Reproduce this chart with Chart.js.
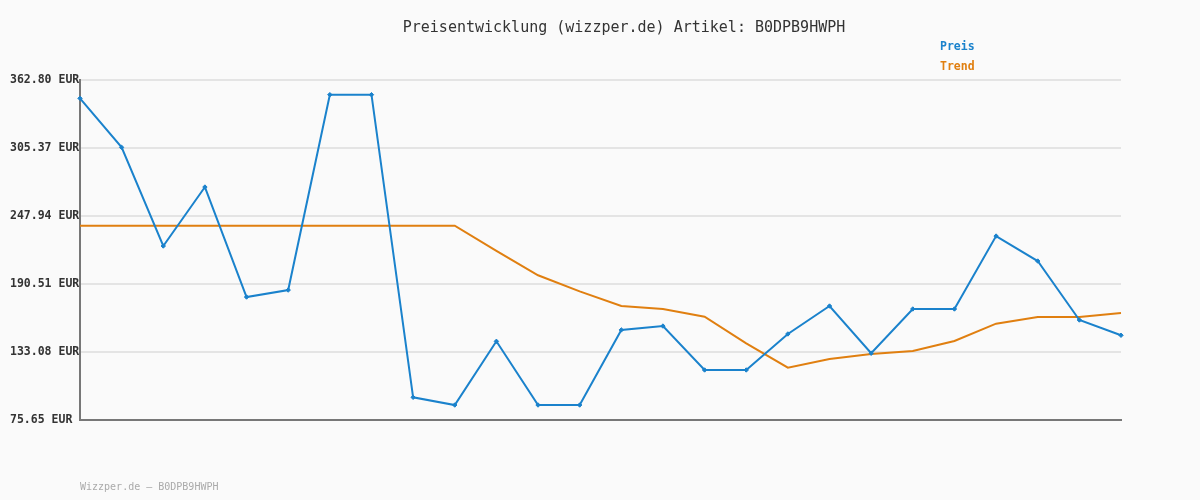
<!DOCTYPE html>
<html>
<head>
<meta charset="utf-8">
<script src="https://cdn.jsdelivr.net/npm/chart.js@4/dist/chart.umd.min.js"></script>
<style>
html,body{margin:0;padding:0;background:#fafafa;}
#wrap{width:1200px;height:500px;position:relative;}
</style>
</head>
<body>
<div id="wrap"><canvas id="c" width="1200" height="500"></canvas></div>
<script>
const categories = Array.from({length: 26}, (_, i) => String(i + 1));
const preis = [347.3, 305.9, 222.6, 272.4, 179.5, 185.4, 350.4, 350.4, 94.8, 88.3, 142.1, 88.3, 88.3, 151.7, 155.0, 117.9, 117.9, 148.3, 171.9, 132.0, 169.4, 169.4, 231.0, 209.9, 160.1, 147.2];
const trend = [239.8, 239.8, 239.8, 239.8, 239.8, 239.8, 239.8, 239.8, 239.8, 239.8, 218.4, 197.9, 184.3, 171.9, 169.4, 162.9, 140.4, 119.8, 127.2, 131.4, 133.9, 142.4, 157.0, 162.6, 162.6, 166.0];
const yTicks = [75.65, 133.08, 190.51, 247.94, 305.37, 362.80];
const titleText = 'Preisentwicklung (wizzper.de) Artikel: B0DPB9HWPH';
const footerText = 'Wizzper.de \u2013 B0DPB9HWPH';
const legendLabels = ['Preis', 'Trend'];

const BLUE = '#1a82cc';
const ORANGE = '#e07f10';

const textPlugin = {
  id: 'texts',
  afterDraw(chart) {
    const ctx = chart.ctx;
    ctx.save();
    ctx.textBaseline = 'middle';
    ctx.textAlign = 'center';
    ctx.fillStyle = '#333';
    ctx.font = '15px "DejaVu Sans Mono"';
    ctx.fillText(titleText, 624, 28);
    ctx.textAlign = 'left';
    ctx.font = 'bold 11.5px "DejaVu Sans Mono"';
    ctx.fillStyle = BLUE;
    ctx.fillText(legendLabels[0], 940, 47);
    ctx.fillStyle = ORANGE;
    ctx.fillText(legendLabels[1], 940, 67);
    ctx.font = '10px "DejaVu Sans Mono"';
    ctx.fillStyle = '#aaa';
    ctx.fillText(footerText, 80, 487);
    ctx.restore();
  }
};

const bgPlugin = {
  id: 'bg',
  beforeDraw(chart) {
    const ctx = chart.ctx;
    ctx.save();
    ctx.fillStyle = '#fafafa';
    ctx.fillRect(0, 0, chart.width, chart.height);
    ctx.restore();
  }
};

new Chart(document.getElementById('c'), {
  type: 'line',
  data: {
    labels: categories,
    datasets: [
      {
        label: legendLabels[0],
        data: preis,
        borderColor: BLUE,
        backgroundColor: BLUE,
        borderWidth: 2,
        pointStyle: 'rectRot',
        pointRadius: 2.2,
        pointBorderWidth: 1,
        tension: 0,
        order: 1
      },
      {
        label: legendLabels[1],
        data: trend,
        borderColor: ORANGE,
        backgroundColor: ORANGE,
        borderWidth: 2,
        pointRadius: 0,
        tension: 0,
        order: 2
      }
    ]
  },
  options: {
    responsive: false,
    animation: false,
    layout: { padding: { left: 10, right: 79, top: 80, bottom: 80 } },
    plugins: {
      legend: { display: false },
      title: { display: false },
      tooltip: { enabled: false }
    },
    scales: {
      x: {
        offset: false,
        ticks: { display: false },
        grid: { display: false, drawTicks: false },
        border: { display: true, color: '#777', width: 2 },
        afterFit(scale) { scale.height = 0; }
      },
      y: {
        min: 75.65,
        max: 362.80,
        afterBuildTicks(scale) { scale.ticks = yTicks.map(v => ({ value: v })); },
        afterFit(scale) { scale.width = 70; },
        ticks: {
          crossAlign: 'far',
          padding: 0,
          color: '#333',
          font: { family: '"DejaVu Sans Mono"', size: 11.5, weight: 'bold' },
          callback: (v) => Number(v).toFixed(2) + ' EUR'
        },
        grid: { color: '#e4e4e4', lineWidth: 2, drawTicks: false },
        border: { display: true, color: '#777', width: 2 }
      }
    }
  },
  plugins: [bgPlugin, textPlugin]
});
</script>
</body>
</html>
